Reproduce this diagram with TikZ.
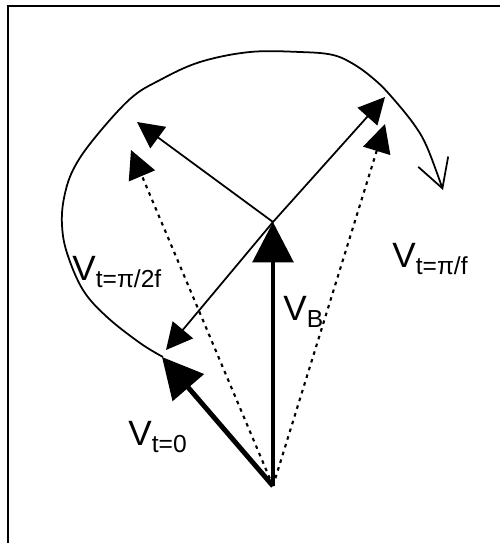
\documentclass[tikz,border=0pt]{standalone}
\usepackage{fontspec}
\setmainfont{Liberation Sans}
\usetikzlibrary{arrows.meta}
\newcommand{\Vsub}[1]{V\raisebox{-4.5pt}{\fontsize{14}{14}\selectfont #1}}

\begin{document}
\begin{tikzpicture}[x=0.2mm,y=-0.2mm,
  thinvec/.style={line width=1pt,-{Triangle[length=15pt,width=15pt]}},
  bigvec/.style={line width=2.8pt,-{Triangle[length=23pt,width=23pt]}},
  dotvec/.style={line width=1.2pt,dash pattern=on 2pt off 2.6pt,
    -{Triangle[length=16pt,width=16pt]}},
  lbl/.style={font=\fontsize{20}{22}\selectfont,inner sep=0pt,anchor=base west}]
  % page 500 x 543 px, 1px = 0.2mm, y down
  \useasboundingbox (0,0) rectangle (500,543);
  \fill[white] (0,0) rectangle (500,543);

  % frame (top and left only)
  \draw[line width=1.2pt] (8,543) -- (8,6) -- (500,6);

  % origin, centre (tip of V_B) and tips
  \coordinate (O) at (273,486);
  \coordinate (C) at (273,222);
  \coordinate (t0) at (162,357);   % V_{t=0}
  \coordinate (r0) at (166,350);   % rotating part at t=0
  \coordinate (r1) at (137,122);   % rotating part at t=pi/2f
  \coordinate (r2) at (385,97);    % rotating part at t=pi/f
  \coordinate (s1) at (131,150);   % V_{t=pi/2f}
  \coordinate (s2) at (385,124);   % V_{t=pi/f}

  % rotating part (thin)
  \draw[thinvec] (C) -- (r0);
  \draw[thinvec] (C) -- (r1);
  \draw[thinvec] (C) -- (r2);

  % sums (dotted)
  \draw[dotvec] (O) -- (s1);
  \draw[dotvec] (O) -- (s2);

  % V_B and V_{t=0}
  \draw[bigvec] (O) -- (C);
  \draw[bigvec] (O) -- (t0);

  % sense of rotation
  \draw[line width=1pt,-{Straight Barb[length=16pt,width=18pt]}]
    plot[smooth,tension=0.6] coordinates {(163,357) (140,343) (107,317)
    (83,290) (67,253) (62,225) (64,198) (73,170) (93,140) (130,99)
    (160,80) (200,62) (250,52) (300,52) (333,55) (355,65) (375,80)
    (390,95) (413,123) (427,147) (443,190)};

  % labels
  \node[lbl] (lB) at (283,320) {\Vsub{B}};
  \node[lbl] (l0) at (128,445) {\Vsub{t=0}};
  \node[lbl] (l1) at (72,280) {\Vsub{t=π/2f}};
  \node[lbl] (l2) at (392,267) {\Vsub{t=π/f}};
\end{tikzpicture}
\end{document}
